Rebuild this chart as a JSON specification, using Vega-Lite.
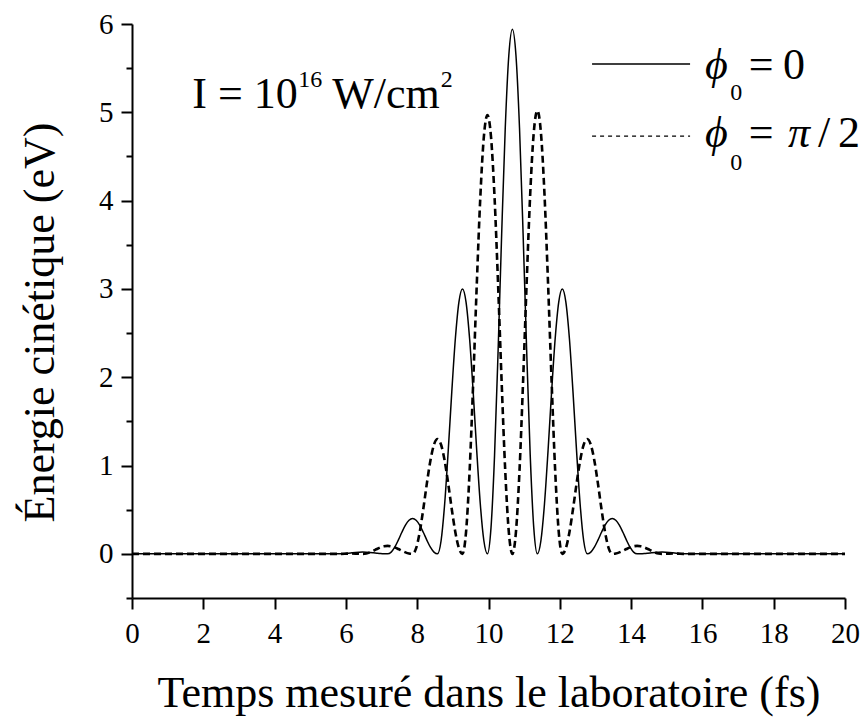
{
  "$schema": "https://vega.github.io/schema/vega-lite/v6.json",
  "autosize": "none",
  "width": 713,
  "height": 574,
  "padding": {"left": 132, "top": 24, "right": 20, "bottom": 119},
  "background": "white",
  "config": {
    "view": {"stroke": null},
    "font": "Liberation Serif",
    "axis": {
      "grid": false,
      "domainColor": "black",
      "domainWidth": 2,
      "tickColor": "black",
      "tickWidth": 2,
      "labelColor": "black",
      "titleColor": "black",
      "titleFontWeight": "normal",
      "labelOverlap": false,
      "labelBound": false,
      "labelFlush": false
    }
  },
  "datasets": {
    "curves": [
      {"t": 0, "s": 0, "d": 0},
      {"t": 5.77, "s": 0, "d": 0},
      {"t": 5.87, "s": 0.001, "d": 0},
      {"t": 5.97, "s": 0.0038, "d": 0.001},
      {"t": 6.07, "s": 0.0078, "d": 0.003},
      {"t": 6.17, "s": 0.0122, "d": 0.004},
      {"t": 6.27, "s": 0.0162, "d": 0.003},
      {"t": 6.37, "s": 0.019, "d": 0.001},
      {"t": 6.47, "s": 0.02, "d": 0},
      {"t": 6.57, "s": 0.019, "d": 0.0045},
      {"t": 6.67, "s": 0.0162, "d": 0.0169},
      {"t": 6.77, "s": 0.0122, "d": 0.035},
      {"t": 6.87, "s": 0.0078, "d": 0.055},
      {"t": 6.97, "s": 0.0038, "d": 0.0731},
      {"t": 7.07, "s": 0.001, "d": 0.0855},
      {"t": 7.17, "s": 0, "d": 0.09},
      {"t": 7.27, "s": 0.0198, "d": 0.0855},
      {"t": 7.37, "s": 0.0753, "d": 0.0731},
      {"t": 7.47, "s": 0.1555, "d": 0.055},
      {"t": 7.57, "s": 0.2445, "d": 0.035},
      {"t": 7.67, "s": 0.3247, "d": 0.0169},
      {"t": 7.77, "s": 0.3802, "d": 0.0045},
      {"t": 7.87, "s": 0.4, "d": 0},
      {"t": 7.97, "s": 0.3802, "d": 0.0644},
      {"t": 8.07, "s": 0.3247, "d": 0.2447},
      {"t": 8.17, "s": 0.2445, "d": 0.5054},
      {"t": 8.27, "s": 0.1555, "d": 0.7946},
      {"t": 8.37, "s": 0.0753, "d": 1.0553},
      {"t": 8.47, "s": 0.0198, "d": 1.2356},
      {"t": 8.57, "s": 0, "d": 1.3},
      {"t": 8.67, "s": 0.1485, "d": 1.2356},
      {"t": 8.77, "s": 0.5648, "d": 1.0553},
      {"t": 8.87, "s": 1.1662, "d": 0.7946},
      {"t": 8.97, "s": 1.8338, "d": 0.5054},
      {"t": 9.07, "s": 2.4352, "d": 0.2447},
      {"t": 9.17, "s": 2.8515, "d": 0.0644},
      {"t": 9.27, "s": 3.0, "d": 0},
      {"t": 9.37, "s": 2.8515, "d": 0.2461},
      {"t": 9.47, "s": 2.4352, "d": 0.9356},
      {"t": 9.57, "s": 1.8338, "d": 1.932},
      {"t": 9.67, "s": 1.1662, "d": 3.038},
      {"t": 9.77, "s": 0.5648, "d": 4.0344},
      {"t": 9.87, "s": 0.1485, "d": 4.7239},
      {"t": 9.97, "s": 0, "d": 4.97},
      {"t": 10.07, "s": 0.2941, "d": 4.7239},
      {"t": 10.17, "s": 1.1182, "d": 4.0344},
      {"t": 10.27, "s": 2.3091, "d": 3.038},
      {"t": 10.37, "s": 3.6309, "d": 1.932},
      {"t": 10.47, "s": 4.8218, "d": 0.9356},
      {"t": 10.57, "s": 5.6459, "d": 0.2461},
      {"t": 10.67, "s": 5.94, "d": 0},
      {"t": 10.77, "s": 5.6459, "d": 0.2486},
      {"t": 10.87, "s": 4.8218, "d": 0.945},
      {"t": 10.97, "s": 3.6309, "d": 1.9515},
      {"t": 11.07, "s": 2.3091, "d": 3.0685},
      {"t": 11.17, "s": 1.1182, "d": 4.075},
      {"t": 11.27, "s": 0.2941, "d": 4.7714},
      {"t": 11.37, "s": 0, "d": 5.02},
      {"t": 11.47, "s": 0.1485, "d": 4.7714},
      {"t": 11.57, "s": 0.5648, "d": 4.075},
      {"t": 11.67, "s": 1.1662, "d": 3.0685},
      {"t": 11.77, "s": 1.8338, "d": 1.9515},
      {"t": 11.87, "s": 2.4352, "d": 0.945},
      {"t": 11.97, "s": 2.8515, "d": 0.2486},
      {"t": 12.07, "s": 3.0, "d": 0},
      {"t": 12.17, "s": 2.8515, "d": 0.0644},
      {"t": 12.27, "s": 2.4352, "d": 0.2447},
      {"t": 12.37, "s": 1.8338, "d": 0.5054},
      {"t": 12.47, "s": 1.1662, "d": 0.7946},
      {"t": 12.57, "s": 0.5648, "d": 1.0553},
      {"t": 12.67, "s": 0.1485, "d": 1.2356},
      {"t": 12.77, "s": 0, "d": 1.3},
      {"t": 12.87, "s": 0.0198, "d": 1.2356},
      {"t": 12.97, "s": 0.0753, "d": 1.0553},
      {"t": 13.07, "s": 0.1555, "d": 0.7946},
      {"t": 13.17, "s": 0.2445, "d": 0.5054},
      {"t": 13.27, "s": 0.3247, "d": 0.2447},
      {"t": 13.37, "s": 0.3802, "d": 0.0644},
      {"t": 13.47, "s": 0.4, "d": 0},
      {"t": 13.57, "s": 0.3802, "d": 0.0045},
      {"t": 13.67, "s": 0.3247, "d": 0.0169},
      {"t": 13.77, "s": 0.2445, "d": 0.035},
      {"t": 13.87, "s": 0.1555, "d": 0.055},
      {"t": 13.97, "s": 0.0753, "d": 0.0731},
      {"t": 14.07, "s": 0.0198, "d": 0.0855},
      {"t": 14.17, "s": 0, "d": 0.09},
      {"t": 14.27, "s": 0.001, "d": 0.0855},
      {"t": 14.37, "s": 0.0038, "d": 0.0731},
      {"t": 14.47, "s": 0.0078, "d": 0.055},
      {"t": 14.57, "s": 0.0122, "d": 0.035},
      {"t": 14.67, "s": 0.0162, "d": 0.0169},
      {"t": 14.77, "s": 0.019, "d": 0.0045},
      {"t": 14.87, "s": 0.02, "d": 0},
      {"t": 14.97, "s": 0.019, "d": 0.001},
      {"t": 15.07, "s": 0.0162, "d": 0.003},
      {"t": 15.17, "s": 0.0122, "d": 0.004},
      {"t": 15.27, "s": 0.0078, "d": 0.003},
      {"t": 15.37, "s": 0.0038, "d": 0.001},
      {"t": 15.47, "s": 0.001, "d": 0},
      {"t": 15.57, "s": 0, "d": 0},
      {"t": 20, "s": 0, "d": 0}
    ],
    "legendLines": [
      {"x": 12.905, "x2": 15.654, "y": 5.547, "series": "solid"},
      {"x": 12.905, "x2": 15.654, "y": 4.731, "series": "dashed"}
    ],
    "labels": [
      {"x": 1.69, "y": 5.048, "text": "I = 10", "size": 44},
      {"x": 4.662, "y": 5.286, "text": "16", "size": 24},
      {"x": 5.615, "y": 5.048, "text": "W/cm", "size": 44},
      {"x": 8.66, "y": 5.286, "text": "2", "size": 24},
      {"x": 16.78, "y": 5.14, "text": "0", "size": 24},
      {"x": 17.3, "y": 5.378, "text": "=", "size": 44},
      {"x": 18.26, "y": 5.378, "text": "0", "size": 44},
      {"x": 16.78, "y": 4.346, "text": "0", "size": 24},
      {"x": 17.3, "y": 4.607, "text": "=", "size": 44},
      {"x": 19.241, "y": 4.607, "text": "/", "size": 44},
      {"x": 19.802, "y": 4.607, "text": "2", "size": 44}
    ],
    "italicLabels": [
      {"x": 16.073, "y": 5.378, "text": "ϕ", "size": 44},
      {"x": 16.073, "y": 4.607, "text": "ϕ", "size": 44},
      {"x": 18.4, "y": 4.607, "text": "π", "size": 44}
    ]
  },
  "layer": [
    {
      "data": {"name": "curves"},
      "mark": {"type": "line", "color": "black", "strokeWidth": 1.5, "interpolate": "monotone", "clip": true},
      "encoding": {
        "x": {
          "field": "t", "type": "quantitative",
          "scale": {"domain": [0, 20], "nice": false, "zero": false},
          "axis": {
            "title": "Temps mesuré dans le laboratoire (fs)",
            "values": [0,1,2,3,4,5,6,7,8,9,10,11,12,13,14,15,16,17,18,19,20],
            "tickSize": {"condition": {"test": "datum.value % 2 === 0", "value": 11}, "value": 6},
            "labelExpr": "datum.value % 2 === 0 ? format(datum.value, 'd') : ''",
            "labelFont": "Liberation Serif",
            "labelFontSize": 29,
            "titleFont": "Liberation Serif",
            "titleFontSize": 44,
            "labelPadding": 10,
            "titleBaseline": "alphabetic",
            "titleY": 108
          }
        },
        "y": {
          "field": "s", "type": "quantitative",
          "scale": {"domain": [-0.5, 6], "nice": false, "zero": false},
          "axis": {
            "title": "Énergie cinétique (eV)",
            "values": [-0.5,0,0.5,1,1.5,2,2.5,3,3.5,4,4.5,5,5.5,6],
            "tickSize": {"condition": {"test": "datum.value % 1 === 0", "value": 11}, "value": 6},
            "labelExpr": "datum.value % 1 === 0 ? format(datum.value, 'd') : ''",
            "labelFont": "Liberation Serif",
            "labelFontSize": 29,
            "titleFont": "Liberation Serif",
            "titleFontSize": 44,
            "labelPadding": 8,
            "titleBaseline": "alphabetic",
            "titleX": -79,
            "titleY": 298
          }
        }
      }
    },
    {
      "data": {"name": "curves"},
      "mark": {"type": "line", "color": "black", "strokeWidth": 2.6, "strokeDash": [7, 4], "interpolate": "monotone", "clip": true},
      "encoding": {
        "x": {"field": "t", "type": "quantitative"},
        "y": {"field": "d", "type": "quantitative"}
      }
    },
    {
      "data": {"name": "legendLines"},
      "mark": {"type": "rule", "color": "black"},
      "encoding": {
        "x": {"field": "x", "type": "quantitative"},
        "x2": {"field": "x2"},
        "y": {"field": "y", "type": "quantitative"},
        "strokeDash": {"field": "series", "type": "nominal", "scale": {"domain": ["solid", "dashed"], "range": [[1, 0], [4, 4]]}, "legend": null},
        "strokeWidth": {"field": "series", "type": "nominal", "scale": {"domain": ["solid", "dashed"], "range": [1.5, 1.2]}, "legend": null}
      }
    },
    {
      "data": {"name": "labels"},
      "mark": {"type": "text", "color": "black", "font": "Liberation Serif", "align": "left", "baseline": "alphabetic"},
      "encoding": {
        "x": {"field": "x", "type": "quantitative"},
        "y": {"field": "y", "type": "quantitative"},
        "text": {"field": "text"},
        "size": {"field": "size", "type": "quantitative", "scale": null}
      }
    },
    {
      "data": {"name": "italicLabels"},
      "mark": {"type": "text", "color": "black", "font": "Liberation Serif", "fontStyle": "italic", "align": "left", "baseline": "alphabetic"},
      "encoding": {
        "x": {"field": "x", "type": "quantitative"},
        "y": {"field": "y", "type": "quantitative"},
        "text": {"field": "text"},
        "size": {"field": "size", "type": "quantitative", "scale": null}
      }
    }
  ]
}
